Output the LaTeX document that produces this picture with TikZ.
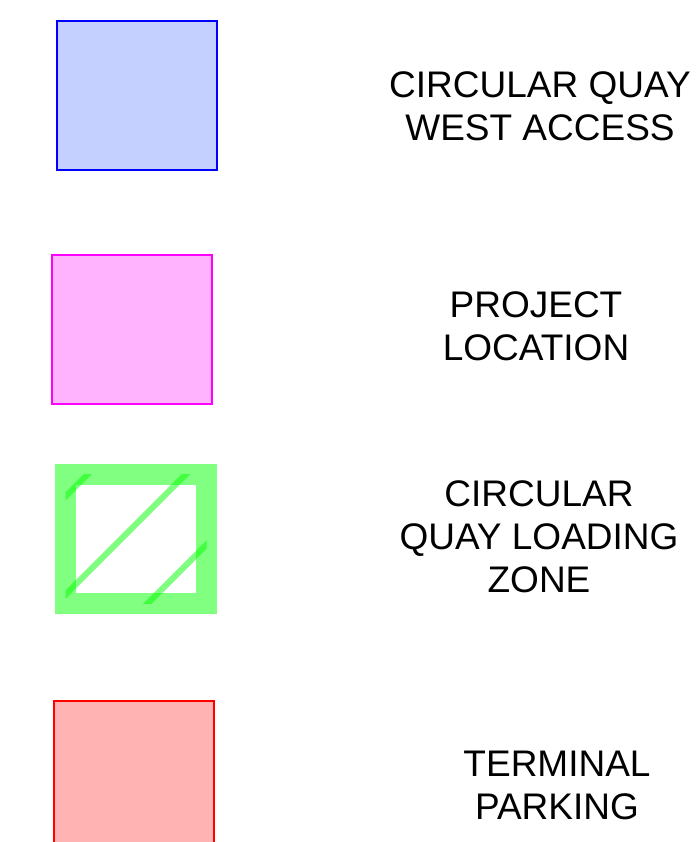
\documentclass[tikz,border=0pt]{standalone}
\usepackage{fontspec}
\setmainfont{Liberation Sans}
\usetikzlibrary{positioning}

\definecolor{accessfill}{HTML}{C4D0FF}
\definecolor{projectfill}{HTML}{FFB3FF}
\definecolor{projectline}{HTML}{FF00FF}
\definecolor{zonefill}{HTML}{80FF80}
\definecolor{parkingfill}{HTML}{FFB3B3}

\begin{document}
\begin{tikzpicture}[
    x=1pt, y=-1pt,
    every node/.style={inner sep=0pt, outer sep=0pt},
    keybox/.style={minimum width=160pt, minimum height=149pt, line width=2pt},
    keytext/.style={align=center, font=\fontsize{37}{43}\selectfont},
    hatch/.style={green, opacity=0.5, line width=6pt}
]
\useasboundingbox (0,0) rectangle (700,842);

% Key boxes
\node[keybox, draw=blue, fill=accessfill, anchor=north west] (access) at (57,21) {};
\node[keybox, draw=projectline, fill=projectfill, anchor=north west] (project) at (52,255) {};
\node[minimum width=141pt, minimum height=129pt, draw=zonefill, line width=21pt, anchor=north west] (zone) at (65.5,474.5) {};
\node[keybox, draw=red, fill=parkingfill, anchor=north west, minimum height=160pt] (parking) at (54,701) {};

% Hatching of the loading zone
\begin{scope}
\clip (zone.north west) rectangle (zone.south east);
\draw[hatch] (40,522) -- (100,462);
\draw[hatch] (40,620) -- (200,460);
\draw[hatch] (130,621) -- (230,521);
\end{scope}

% Labels
\node[keytext] (accesslabel) at (540,106) {CIRCULAR QUAY\\WEST ACCESS};
\node[keytext] (projectlabel) at (536,326) {PROJECT\\LOCATION};
\node[keytext] (zonelabel) at (539,537) {CIRCULAR\\QUAY LOADING\\ZONE};
\node[keytext] (parkinglabel) at (557,785) {TERMINAL\\PARKING};

\end{tikzpicture}
\end{document}
